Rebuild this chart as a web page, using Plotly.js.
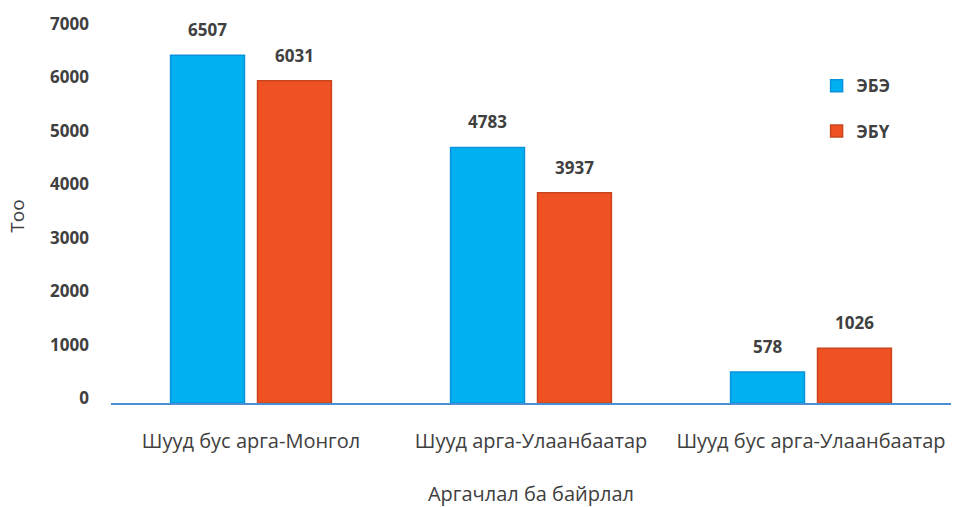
<!DOCTYPE html>
<html>
<head>
<meta charset="utf-8">
<script src="https://cdn.plot.ly/plotly-3.0.1.min.js"></script>
<style>html,body{margin:0;padding:0;background:#fff;}#chart{width:961px;height:507px;}</style>
</head>
<body>
<div id="chart"></div>
<script>
const categories = ["Шууд бус арга-Монгол", "Шууд арга-Улаанбаатар", "Шууд бус арга-Улаанбаатар"];
const seriesNames = ["ЭБЭ", "ЭБҮ"];
const valuesEBE = [6507, 4783, 578];
const valuesEBU = [6031, 3937, 1026];
const yTicks = [0, 1000, 2000, 3000, 4000, 5000, 6000, 7000];

const labelFont = {family: "Open Sans, sans-serif", size: 17, color: "#404040", weight: "bold"};
function bar(name, vals, color, edge, grp) {
  return {
    type: "bar", name: name, x: categories, y: vals,
    legendgroup: grp, offsetgroup: grp,
    marker: {color: color, line: {color: edge, width: 1.5}},
    hoverinfo: "none"
  };
}
function labels(vals, grp) {
  return {
    type: "scatter", mode: "markers+text", x: categories, y: vals,
    offsetgroup: grp, showlegend: false,
    marker: {size: 22, opacity: 0},
    text: vals.map(String), textposition: "top center",
    textfont: labelFont, cliponaxis: false, hoverinfo: "none"
  };
}
const data = [
  bar(seriesNames[0], valuesEBE, "#00b0f0", "#0a93dc", "a"),
  bar(seriesNames[1], valuesEBU, "#f05123", "#c8461e", "b"),
  labels(valuesEBE, "a"),
  labels(valuesEBU, "b")
];
const layout = {
  width: 961, height: 507,
  margin: {l: 111, r: 10, t: 29, b: 104},
  paper_bgcolor: "#fff", plot_bgcolor: "#fff",
  bargap: 0.379, bargroupgap: 0.15,
  scattermode: "group", scattergap: 0.379,
  showlegend: true,
  legend: {x: 0.840, y: 0.895, xanchor: "left", yanchor: "top",
    font: {family: "Open Sans, sans-serif", size: 17, color: "#404040", weight: "bold"},
    tracegroupgap: 20, traceorder: "grouped", itemwidth: 30},
  xaxis: {
    type: "category", showline: true, linecolor: "#4a8fd4", linewidth: 1.5,
    showgrid: false, zeroline: false, ticks: "",
    ticklabelstandoff: 19,
    tickfont: {family: "Open Sans, sans-serif", size: 20, color: "#404040"},
    title: {text: "Аргачлал ба байрлал", font: {family: "Open Sans, sans-serif", size: 20, color: "#404040"}, standoff: 37}
  },
  yaxis: {
    range: [0, 7000], tickvals: yTicks, ticktext: yTicks.map(String),
    showline: false, showgrid: false, zeroline: false, ticks: "",
    ticklabelstandoff: 21, ticklabelshift: -5,
    tickfont: {family: "Open Sans, sans-serif", size: 17, color: "#404040", weight: "bold"},
    title: {text: "Тоо", font: {family: "Open Sans, sans-serif", size: 19, color: "#404040"}, standoff: 20}
  },
  font: {family: "Open Sans, sans-serif"}
};
Plotly.newPlot("chart", data, layout, {displayModeBar: false, staticPlot: true});
</script>
</body>
</html>
